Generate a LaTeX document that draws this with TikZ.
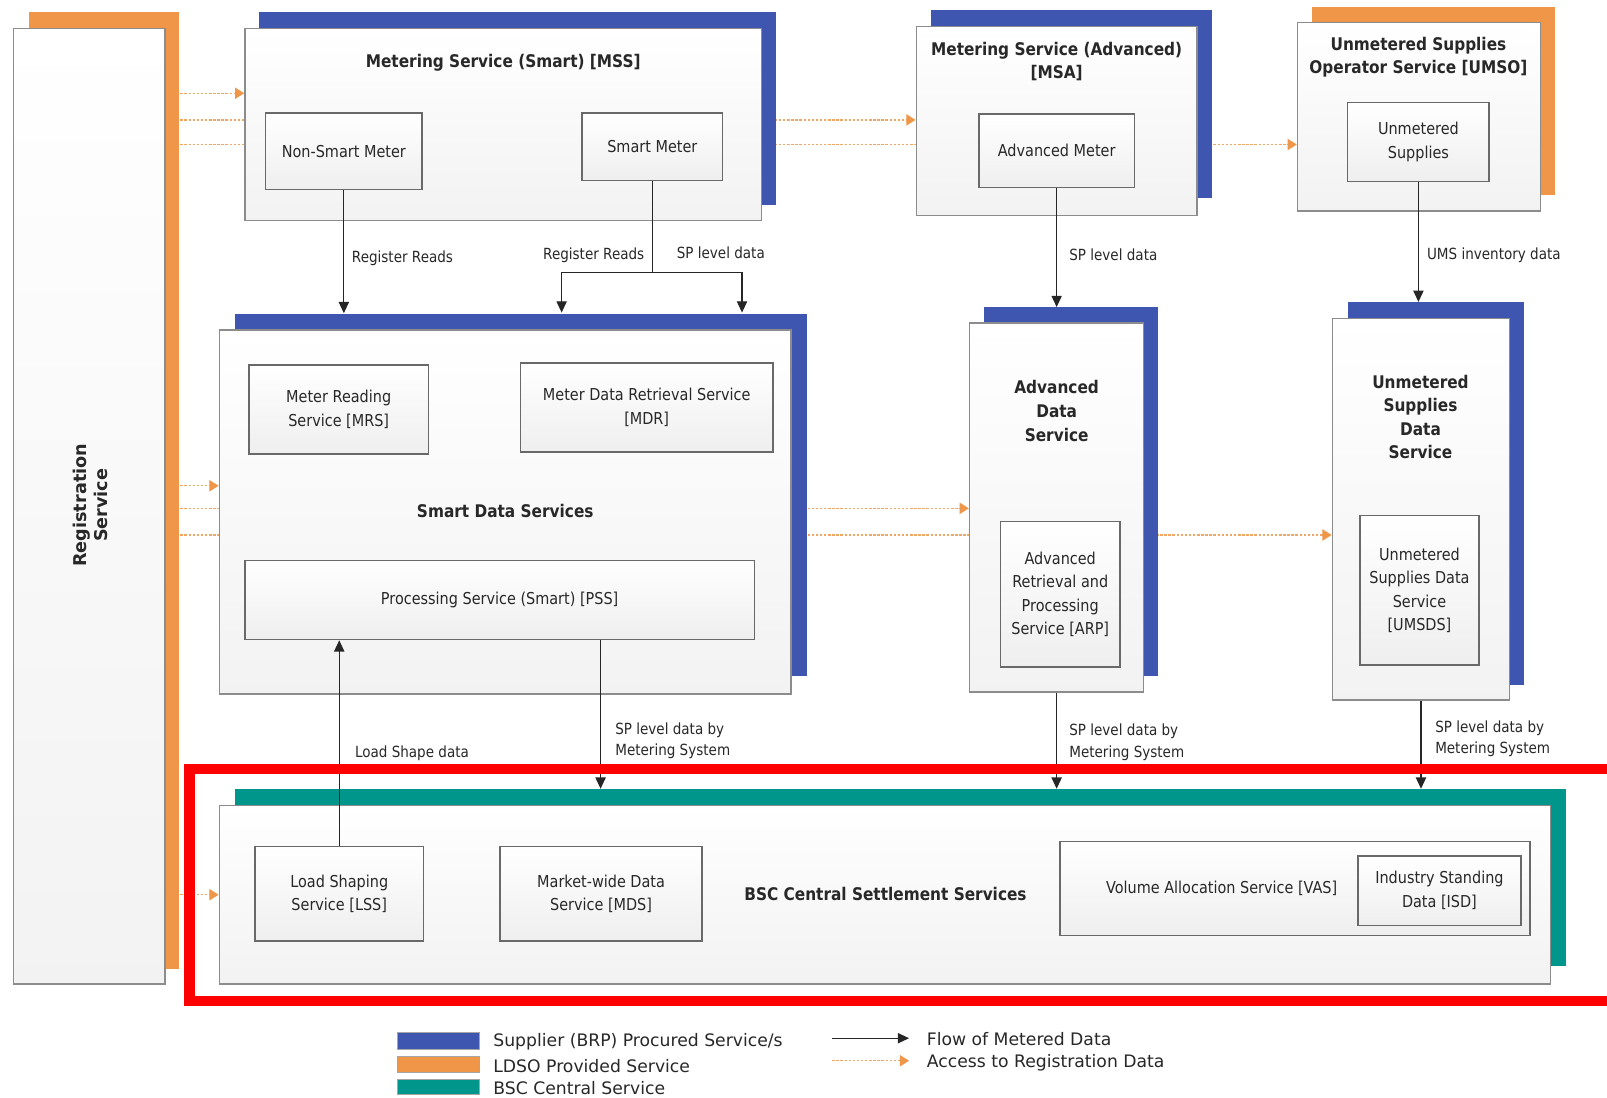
\documentclass[tikz,border=0pt]{standalone}
\usepackage{fontspec}
\setmainfont{DejaVu Sans}
\newfontfamily\df[FakeStretch=0.88]{DejaVu Sans}
\newfontfamily\lf{DejaVu Sans}
\usetikzlibrary{arrows.meta,fit}
\definecolor{sblue}{RGB}{63,86,176}
\definecolor{lorange}{RGB}{240,150,72}
\definecolor{bteal}{RGB}{0,150,140}
\definecolor{bord}{RGB}{140,140,140}
\definecolor{ibord}{RGB}{105,105,105}
\definecolor{txt}{RGB}{40,40,40}
\pgfdeclarelayer{bg}
\pgfsetlayers{bg,main}
\newcommand\ibx[6]{\node[ibox, fit={(#2,#3) (#4,#5)}] (#1) {};
  \node[itx] (#1T) at (#1.center) {#6};}
\begin{document}
\begin{tikzpicture}[x=0.5pt,y=-0.5pt,
 obox/.style={draw=bord, line width=0.7pt, top color=white, bottom color=gray!10, inner sep=0pt},
 ibox/.style={draw=ibord, line width=0.75pt, top color=white, bottom color=gray!13, inner sep=0pt},
 itx/.style={align=center, font=\df\fontsize{8}{11.5}\selectfont, text=txt, inner sep=0pt},
 shad/.style={inner sep=0pt, draw=none},
 ttl/.style={font=\df\bfseries\fontsize{8.5}{11.5}\selectfont, text=txt, align=center, inner sep=0pt},
 lbl/.style={font=\df\fontsize{7.5}{10.5}\selectfont, text=txt, align=left, anchor=west, inner sep=0pt},
 lgt/.style={font=\lf\fontsize{8.4}{10}\selectfont, text=txt, anchor=west, inner sep=0pt},
 flow/.style={draw=black!85, line width=0.6pt, -{Triangle[length=5.5pt,width=5pt]}},
 flowline/.style={draw=black!85, line width=0.6pt},
 regarrow/.style={draw=lorange!85, line width=0.6pt, dash pattern=on 1.2pt off 0.8pt, -{Triangle[length=4.5pt,width=5.5pt,color=lorange,fill=lorange]}},
]
\begin{pgfonlayer}{bg}
\fill[white] (0,0) rectangle (1568,1071);
\end{pgfonlayer}
\useasboundingbox (0,0) rectangle (1568,1071);

% Registration service
\node[shad, fill=lorange, fit={(28,12) (175,945)}] (regB) {};
\node[obox, fit={(13,28) (161,960)}] (regS) {};
\node[rotate=90, font=\lf\bfseries\fontsize{8.6}{10.5}\selectfont, text=txt, align=center] (regT) at (88,493) {Registration\\Service};

% MSS
\node[shad, fill=sblue, fit={(253,12) (757,200)}] (mssB) {};
\node[obox, fit={(239,28) (743,215)}] (mss) {};
\node[ttl] (mssT) at (491,61) {Metering Service (Smart) [MSS]};
\ibx{nsm}{259}{110}{412}{185}{Non-Smart Meter}
\ibx{sm}{568}{110}{705}{176}{Smart Meter}

% MSA
\node[shad, fill=sblue, fit={(908,10) (1183,193)}] (msaB) {};
\node[obox, fit={(894,26) (1168,210)}] (msa) {};
\node[ttl] (msaT) at (1031,60) {Metering Service (Advanced)\\{}[MSA]};
\ibx{am}{955}{111}{1107}{183}{Advanced Meter}

% UMSO
\node[shad, fill=lorange, fit={(1280,7) (1517,190)}] (umsoB) {};
\node[obox, fit={(1266,22) (1503,206)}] (umso) {};
\node[ttl] (umsoT) at (1384,56) {Unmetered Supplies\\Operator Service [UMSO]};
\ibx{us}{1315}{100}{1453}{177}{Unmetered\\Supplies}

% Smart Data Services
\node[shad, fill=sblue, fit={(229,306) (787,660)}] (sdsB) {};
\node[obox, fit={(214,322) (772,677)}] (sds) {};
\ibx{mrs}{243}{356}{418}{443}{Meter Reading\\Service [MRS]}
\ibx{mdr}{508}{354}{754}{441}{Meter Data Retrieval Service\\{}[MDR]}
\node[ttl] (sdsT) at (493,499) {Smart Data Services};
\ibx{pss}{239}{547}{736}{624}{Processing Service (Smart) [PSS]}

% Advanced Data Service
\node[shad, fill=sblue, fit={(960,300) (1130,660)}] (adsB) {};
\node[obox, fit={(946,315) (1116,675)}] (ads) {};
\node[ttl] (adsT) at (1031,401) {Advanced\\Data\\Service};
\ibx{arp}{976}{509}{1093}{651}{Advanced\\Retrieval and\\Processing\\Service [ARP]}

% Unmetered Supplies Data Service
\node[shad, fill=sblue, fit={(1315,295) (1487,668)}] (usdsB) {};
\node[obox, fit={(1300,311) (1473,683)}] (usds) {};
\node[ttl] (usdsT) at (1386,407) {Unmetered\\Supplies\\Data\\Service};
\ibx{umsds}{1327}{503}{1443}{649}{Unmetered\\Supplies Data\\Service\\{}[UMSDS]}

% BSC Central Settlement Services
\node[shad, fill=bteal, fit={(229,770) (1528,943)}] (bscB) {};
\node[obox, fit={(214,786) (1513,960)}] (bsc) {};
\ibx{lss}{249}{826}{413}{918}{Load Shaping\\Service [LSS]}
\ibx{mds}{488}{826}{685}{918}{Market-wide Data\\Service [MDS]}
\node[ttl] (bscT) at (864,872) {BSC Central Settlement Services};
\node[ibox, fit={(1034,821) (1493,913)}] (vas) {};
\node[itx] (vasT) at (1192,867) {Volume Allocation Service [VAS]};
\ibx{isd}{1325}{835}{1484}{903}{Industry Standing\\Data [ISD]}

% Access to registration data (behind boxes)
\begin{pgfonlayer}{bg}
\coordinate (r1) at (176,91);
\coordinate (r2) at (176,117);
\coordinate (r3) at (176,141);
\coordinate (r4) at (176,474);
\coordinate (r5) at (176,496);
\coordinate (r6) at (176,522);
\coordinate (r7) at (176,873);
\draw[regarrow] (r1) -- (r1 -| mss.west);
\draw[regarrow] (r2) -- (r2 -| msa.west);
\draw[regarrow] (r3) -- (r3 -| umso.west);
\draw[regarrow] (r4) -- (r4 -| sds.west);
\draw[regarrow] (r5) -- (r5 -| ads.west);
\draw[regarrow] (r6) -- (r6 -| usds.west);
\draw[regarrow] (r7) -- (r7 -| bsc.west);
\end{pgfonlayer}

% Flow of metered data
\draw[flow] (nsm.south) -- (nsm.south |- sdsB.north);
\coordinate (smJ) at (636.5,266);
\coordinate (rrT) at (548,305);
\coordinate (spT) at (724,305);
\draw[flowline] (sm.south) -- (smJ);
\draw[flow] (smJ) -| (rrT);
\draw[flow] (smJ) -| (spT);
\draw[flow] (am.south) -- (am.south |- adsB.north);
\draw[flow] (us.south) -- (us.south |- usdsB.north);
\coordinate (pssO) at (586,624);
\draw[flow] (pssO) -- (pssO |- bscB.north);
\draw[flow] (lss.north) -- (lss.north |- pss.south);
\draw[flow] (ads.south) -- (ads.south |- bscB.north);
\draw[flow] (usds.south) -- (usds.south |- bscB.north);

% Labels
\node[lbl] (l1) at (343,252) {Register Reads};
\node[lbl, anchor=east] (l2) at (629,249) {Register Reads};
\node[lbl] (l3) at (660,247) {SP level data};
\node[lbl] (l4) at (1043,249) {SP level data};
\node[lbl] (l5) at (1392,249) {UMS inventory data};
\node[lbl] (l6) at (346,735) {Load Shape data};
\node[lbl] (l7) at (600,723) {SP level data by\\Metering System};
\node[lbl] (l8) at (1043,724) {SP level data by\\Metering System};
\node[lbl] (l9) at (1400,721) {SP level data by\\Metering System};

% Red highlight frame
\draw[red, line width=5pt, line join=miter] (1568,750.5) -- (185,750.5) -- (185,977) -- (1568,977);

% Legend
\node[shad, fill=sblue, draw=gray!70, line width=0.4pt, fit={(388,1007) (468,1024)}] (lgB) {};
\node[shad, fill=lorange, draw=gray!70, line width=0.4pt, fit={(388,1031) (468,1046)}] (lgO) {};
\node[shad, fill=bteal, draw=gray!70, line width=0.4pt, fit={(388,1053) (468,1068)}] (lgT) {};
\node[lgt] (lgBt) at (481,1016) {Supplier (BRP) Procured Service/s};
\node[lgt] (lgOt) at (481,1040) {LDSO Provided Service};
\node[lgt] (lgTt) at (481,1062) {BSC Central Service};
\coordinate (la1) at (812,1013);
\coordinate (la2) at (887,1013);
\coordinate (lo1) at (812,1035);
\coordinate (lo2) at (887,1035);
\draw[flow] (la1) -- (la2);
\draw[regarrow] (lo1) -- (lo2);
\node[lgt] (laT) at (904,1014) {Flow of Metered Data};
\node[lgt] (loT) at (904,1037) {Access to Registration Data};
\end{tikzpicture}
\end{document}
